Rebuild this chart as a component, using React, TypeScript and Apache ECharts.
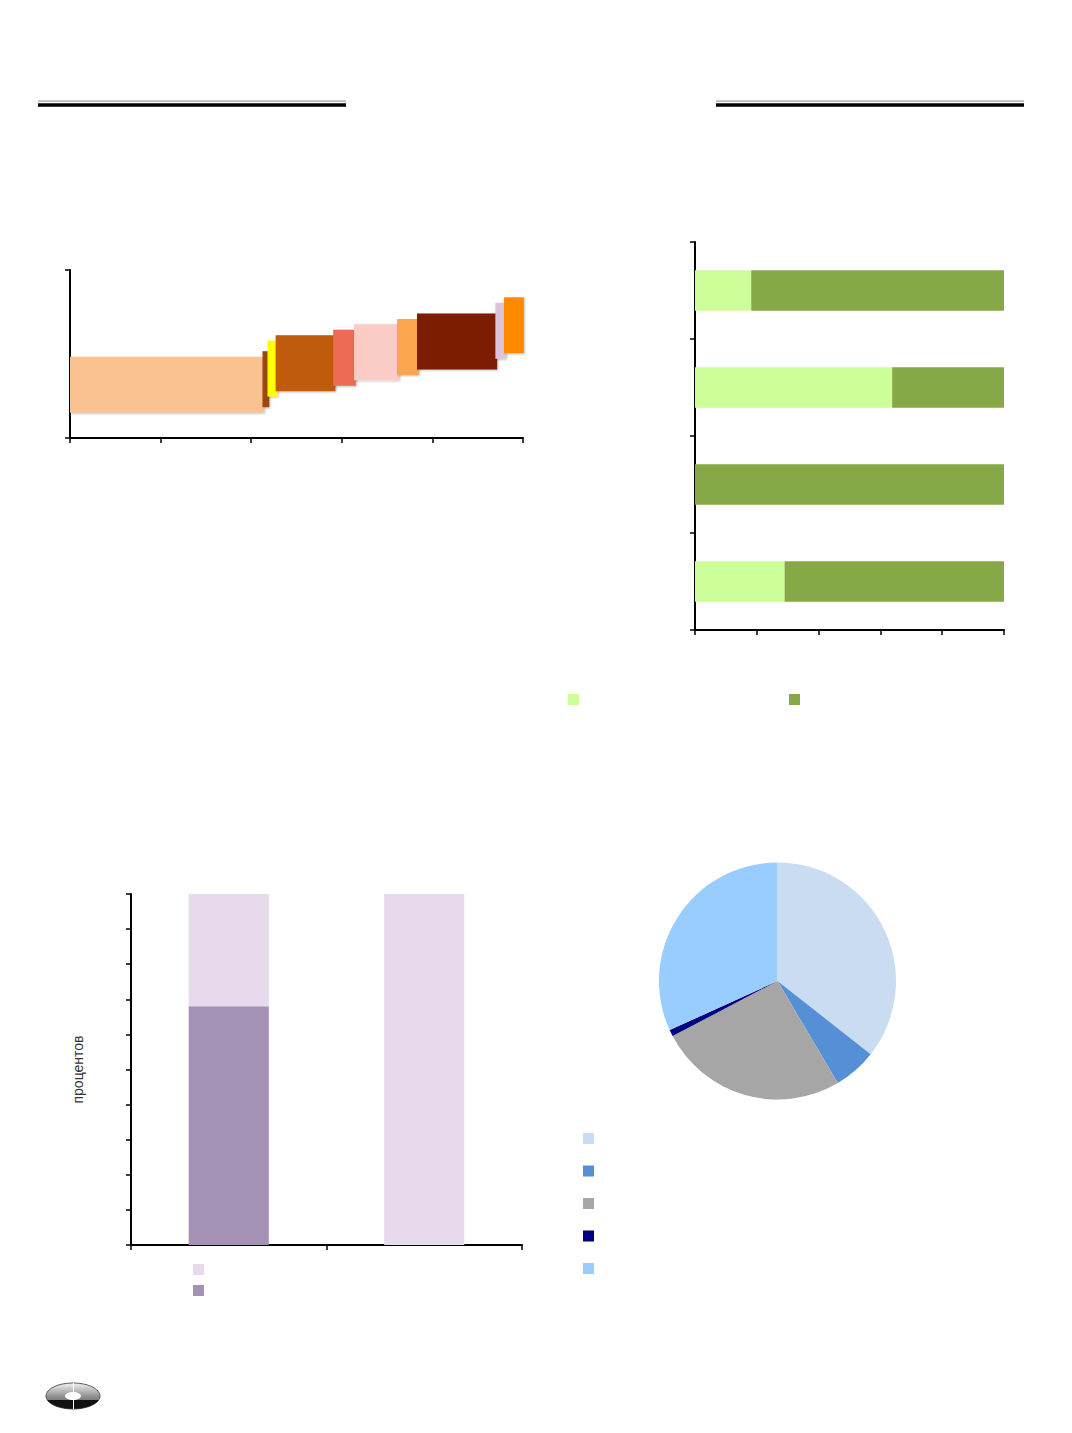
import React, { useEffect, useRef } from "react";
import * as echarts from "echarts";

// ---- Chart 1: variable-width floating bars (top-left) ----
const mekkoStart = [0, 42.5, 43.6, 45.4, 58.1, 62.7, 72.2, 76.6, 93.9, 95.8];
const mekkoEnd = [42.8, 44.0, 45.8, 58.6, 63.1, 72.6, 77.0, 94.3, 96.2, 100.2];
const mekkoLow = [9.0, 11.0, 14.8, 16.7, 18.7, 20.6, 22.5, 24.5, 28.3, 30.3];
const mekkoHigh = [29.0, 31.0, 34.8, 36.7, 38.7, 40.6, 42.5, 44.5, 48.3, 50.3];
const mekkoColors = [
  "#FAC291", "#9A4A0C", "#FFFF00", "#C05A0A", "#EE6A55",
  "#FBCBC5", "#FCA54F", "#7B1C02", "#DDC3DC", "#FF8A00",
];

// ---- Chart 2: 100% stacked horizontal bars (top-right) ----
const hbarCategories = ["1", "2", "3", "4"];
const hbarLight = [18.2, 63.8, 0, 29.0];
const hbarDark = [81.8, 36.2, 100, 71.0];

// ---- Chart 3: stacked columns, percent (bottom-left) ----
const colCategories = ["1", "2"];
const colDark = [68, 0];
const colLight = [32, 100];

// ---- Chart 4: pie (bottom-right) ----
const pieNames = ["p1", "p2", "p3", "p4", "p5"];
const pieValues = [35.6, 5.9, 25.8, 0.9, 31.8];
const pieColors = ["#CADCF2", "#5590D6", "#A6A6A6", "#000080", "#99CCFF"];

const FONT = "'Liberation Sans', Arial, sans-serif";

echarts.graphic.registerShape(
  "logoBottom",
  echarts.graphic.extendPath("M -25.6 4 L 25.6 4 A 27 13 0 0 1 -25.6 4 Z", {})
);

const axisLine = { show: true, onZero: false, lineStyle: { color: "#000", width: 2 } };
const axisTick = { show: true, inside: false, length: 5, lineStyle: { color: "#000", width: 1.5 } };
const hidden = { show: false };

function legendItem(name: string, left: number, top: number) {
  return {
    show: true,
    data: [name],
    left,
    top,
    padding: 0,
    orient: "vertical",
    itemWidth: 11,
    itemHeight: 11,
    icon: "rect",
    selectedMode: false,
    formatter: () => "",
    textStyle: { fontSize: 11, fontFamily: FONT },
  };
}

export default function App() {
  const ref = useRef<HTMLDivElement>(null);
  useEffect(() => {
    document.body.style.margin = "0";
    const chart = echarts.init(ref.current!, null, { renderer: "svg" });
    const mekkoData = mekkoStart.map((s, i) => [s, mekkoEnd[i], mekkoLow[i], mekkoHigh[i]]);
    const option: any = {
      animation: false,
      backgroundColor: "#fff",
      grid: [
        { left: 70, top: 270, width: 453, height: 168 },
        { left: 695, top: 242, width: 309, height: 388 },
        { left: 131, top: 894, width: 391, height: 351 },
      ],
      xAxis: [
        { type: "value", gridIndex: 0, min: 0, max: 100, interval: 20, axisLine, axisTick, axisLabel: hidden, splitLine: hidden },
        { type: "value", gridIndex: 1, min: 0, max: 100, interval: 20, axisLine, axisTick, axisLabel: hidden, splitLine: hidden },
        { type: "category", gridIndex: 2, data: colCategories, boundaryGap: true, axisLine, axisTick: { ...axisTick, alignWithLabel: false }, axisLabel: hidden, splitLine: hidden },
      ],
      yAxis: [
        { type: "value", gridIndex: 0, min: 0, max: 60, interval: 60, axisLine, axisTick, axisLabel: hidden, splitLine: hidden },
        { type: "category", gridIndex: 1, data: hbarCategories, inverse: true, boundaryGap: true, axisLine, axisTick: { ...axisTick, alignWithLabel: false }, axisLabel: hidden, splitLine: hidden },
        {
          type: "value", gridIndex: 2, min: 0, max: 100, interval: 10, axisLine, axisTick, axisLabel: hidden, splitLine: hidden,
          name: "процентов", nameLocation: "middle", nameRotate: 90, nameGap: 46,
          nameTextStyle: { color: "#333", fontSize: 14, fontFamily: FONT },
        },
      ],
      legend: [
        legendItem("light2", 568, 694),
        legendItem("dark2", 789, 694),
        legendItem("light3", 193, 1264),
        legendItem("dark3", 193, 1285),
        ...pieNames.map((n, i) => legendItem(n, 583, 1133 + i * 32.5)),
      ],
      series: [
        {
          type: "custom",
          xAxisIndex: 0,
          yAxisIndex: 0,
          encode: { x: [0, 1], y: [2, 3] },
          data: mekkoData,
          renderItem: (params: any, api: any) => {
            const p0 = api.coord([api.value(0), api.value(3)]);
            const p1 = api.coord([api.value(1), api.value(2)]);
            return {
              type: "rect",
              shape: { x: p0[0], y: p0[1], width: p1[0] - p0[0], height: p1[1] - p0[1] },
              style: {
                fill: mekkoColors[params.dataIndex],
                shadowBlur: 2,
                shadowOffsetX: 1,
                shadowOffsetY: 1,
                shadowColor: "rgba(0,0,0,0.25)",
              },
            };
          },
        },
        {
          name: "light2", type: "bar", xAxisIndex: 1, yAxisIndex: 1, stack: "h", barWidth: "42%",
          data: hbarLight, itemStyle: { color: "#CCFF99" }, emphasis: { disabled: true },
        },
        {
          name: "dark2", type: "bar", xAxisIndex: 1, yAxisIndex: 1, stack: "h", barWidth: "42%",
          data: hbarDark, itemStyle: { color: "#87A846" }, emphasis: { disabled: true },
        },
        {
          name: "dark3", type: "bar", xAxisIndex: 2, yAxisIndex: 2, stack: "v", barWidth: "41%",
          data: colDark, itemStyle: { color: "#A391B6" }, emphasis: { disabled: true },
        },
        {
          name: "light3", type: "bar", xAxisIndex: 2, yAxisIndex: 2, stack: "v", barWidth: "41%",
          data: colLight, itemStyle: { color: "#E6DAEC" }, emphasis: { disabled: true },
        },
        {
          type: "pie",
          center: [777.5, 981],
          radius: 118.5,
          startAngle: 90,
          clockwise: true,
          avoidLabelOverlap: false,
          label: { show: false },
          labelLine: { show: false },
          itemStyle: { borderWidth: 0 },
          emphasis: { disabled: true },
          data: pieNames.map((n, i) => ({ name: n, value: pieValues[i], itemStyle: { color: pieColors[i] } })),
        },
      ],
      graphic: [
        { type: "line", shape: { x1: 38, y1: 101.2, x2: 346, y2: 101.2 }, style: { stroke: "#A0A0A0", lineWidth: 1.2 } },
        { type: "line", shape: { x1: 38, y1: 105, x2: 346, y2: 105 }, style: { stroke: "#000", lineWidth: 3.4 } },
        { type: "line", shape: { x1: 716, y1: 101.2, x2: 1024, y2: 101.2 }, style: { stroke: "#A0A0A0", lineWidth: 1.2 } },
        { type: "line", shape: { x1: 716, y1: 105, x2: 1024, y2: 105 }, style: { stroke: "#000", lineWidth: 3.4 } },
        {
          type: "ellipse",
          shape: { cx: 73, cy: 1396, rx: 27, ry: 13 },
          style: {
            fill: {
              type: "linear", x: 0, y: 0, x2: 0, y2: 1,
              colorStops: [
                { offset: 0, color: "#f2f2f2" },
                { offset: 0.55, color: "#8a8a8a" },
                { offset: 1, color: "#555" },
              ],
            },
            stroke: "#333",
            lineWidth: 0.8,
          },
        },
        { type: "logoBottom", x: 73, y: 1396, style: { fill: "#111" } },
        { type: "ellipse", shape: { cx: 73, cy: 1396, rx: 8, ry: 4 }, style: { fill: "#fff" } },
        { type: "line", shape: { x1: 73.5, y1: 1383, x2: 73.5, y2: 1409 }, style: { stroke: "#fff", lineWidth: 1 } },
      ],
    };
    chart.setOption(option);
    return () => chart.dispose();
  }, []);
  return <div ref={ref} style={{ position: "absolute", left: 0, top: 0, width: 1072, height: 1433 }} />;
}
